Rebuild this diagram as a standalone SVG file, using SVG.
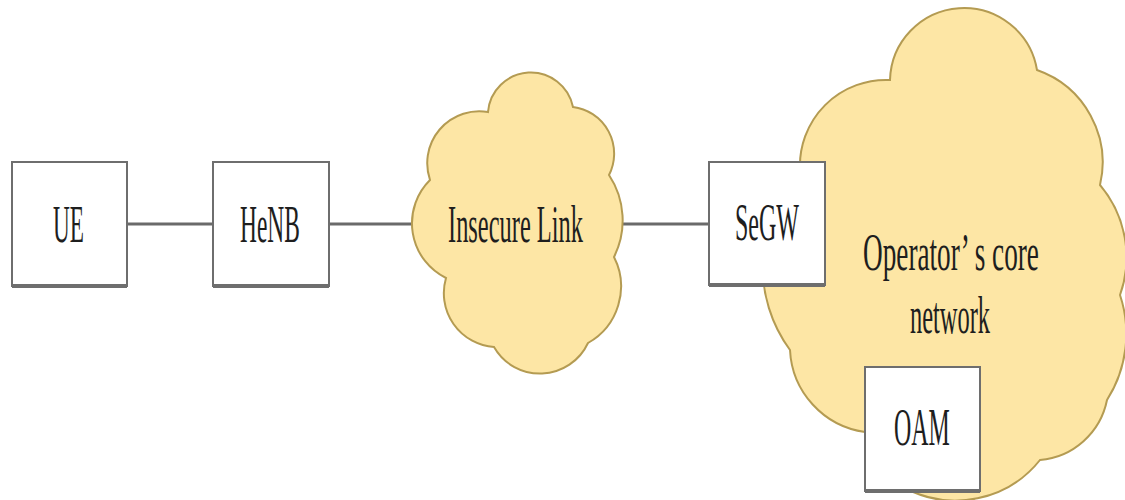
<svg xmlns="http://www.w3.org/2000/svg" width="1125" height="500" viewBox="0 0 1125 500">
  <style>
    .box { fill: #ffffff; stroke: #6e6e6e; stroke-width: 2; }
    .shade { stroke: #6e6e6e; stroke-width: 4; }
    .cloud { fill: #fde6a5; stroke: #b49b52; stroke-width: 2; }
    .link { stroke: #6a6a6a; stroke-width: 3; fill: none; }
    .lbl { font-family: "Liberation Serif", "Times New Roman", serif; font-size: 52px; fill: #1e1e1e; }
  </style>
  <rect width="1125" height="500" fill="#ffffff"/>

  <!-- connectors -->
  <g id="connectors">
    <line class="link" x1="127" y1="224" x2="213" y2="224"/>
    <line class="link" x1="329" y1="224" x2="415" y2="224"/>
    <line class="link" x1="621" y1="224" x2="709" y2="224"/>
  </g>

  <!-- insecure link cloud -->
  <g id="insecure-link">
    <path class="cloud" d="M488,112 A43,43 0 0 1 573,107 A47,47 0 0 1 609,175 A82,82 0 0 1 614,257 A65,65 0 0 1 588,343 A53,53 0 0 1 494,347 A54,54 0 0 1 446,278 A61,61 0 0 1 430,180 A52,52 0 0 1 488,112 Z"/>
    <text class="lbl" transform="translate(448 242) scale(0.47 1)">Insecure Link</text>
  </g>

  <!-- operator core network cloud -->
  <g id="core-network">
    <path class="cloud" d="M890,80 A74,74 0 0 1 1037,70 A98,98 0 0 1 1100,185 A112,112 0 0 1 1120,295 A123,123 0 0 1 1107,400 A75,75 0 0 1 1040,460 A108,108 0 0 1 905,488 L865,432 A87,87 0 0 1 790,350 A142,142 0 0 1 800,170 A86,86 0 0 1 890,80 Z"/>
    <text class="lbl" transform="translate(863 270) scale(0.524 1)">Operator’ s core</text>
    <text class="lbl" transform="translate(910 333) scale(0.47 1)">network</text>
  </g>

  <g id="ue">
    <rect class="box" x="12" y="162" width="115" height="124"/>
    <line class="shade" x1="12" y1="286" x2="127" y2="286"/>
    <text class="lbl" transform="translate(53 242) scale(0.447 1)">UE</text>
  </g>

  <g id="henb">
    <rect class="box" x="213" y="162" width="116" height="124"/>
    <line class="shade" x1="213" y1="286" x2="329" y2="286"/>
    <text class="lbl" transform="translate(240 242) scale(0.451 1)">HeNB</text>
  </g>

  <g id="segw">
    <rect class="box" x="709" y="162" width="116" height="123"/>
    <line class="shade" x1="709" y1="285" x2="825" y2="285"/>
    <text class="lbl" transform="translate(735 240) scale(0.462 1)">SeGW</text>
  </g>

  <g id="oam">
    <rect class="box" x="865" y="367" width="115" height="124"/>
    <line class="shade" x1="865" y1="491" x2="980" y2="491"/>
    <text class="lbl" transform="translate(894 445) scale(0.46 1)">OAM</text>
  </g>
</svg>
